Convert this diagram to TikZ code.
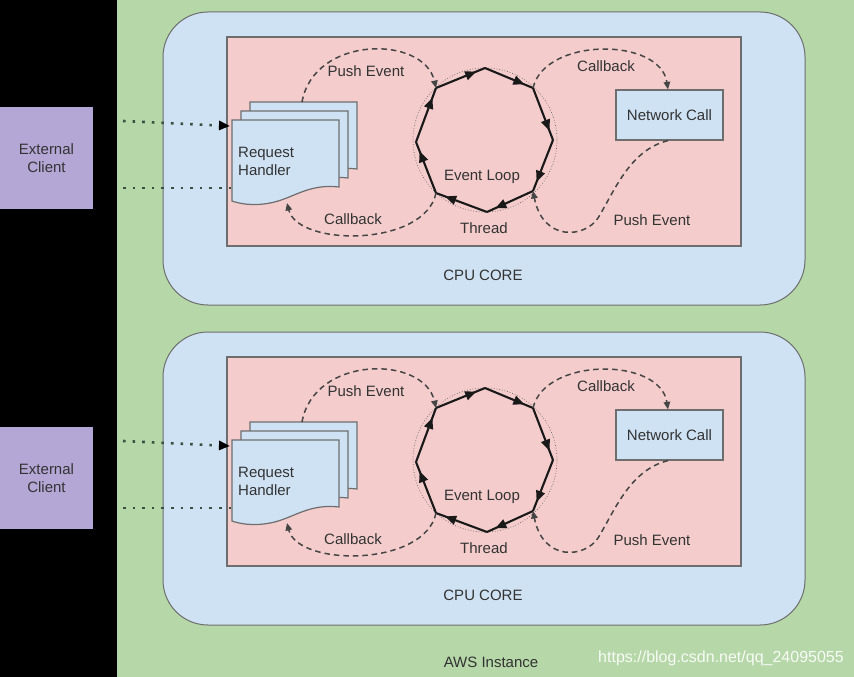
\documentclass[tikz,border=0pt]{standalone}
\usepackage{fontspec}
\setmainfont{Liberation Sans}
\usetikzlibrary{arrows.meta,decorations.markings}
\definecolor{awsgreen}{HTML}{B6D7A8}
\definecolor{coreblue}{HTML}{CFE2F3}
\definecolor{threadpink}{HTML}{F4CCCC}
\definecolor{clientpurple}{HTML}{B4A7D6}
\definecolor{txt}{HTML}{333333}
\definecolor{edgegray}{HTML}{6E6E6E}
\definecolor{dotgreen}{HTML}{3A5040}
\definecolor{dashgray}{HTML}{454545}
\begin{document}
\begin{tikzpicture}[x=1pt,y=-1pt,
  every node/.style={font=\fontsize{15}{18}\selectfont, text=txt, inner sep=0pt},
  client/.style={fill=clientpurple, minimum width=93pt, minimum height=102pt, align=center},
  corebox/.style={fill=coreblue, draw=edgegray, line width=1pt, rounded corners=45pt},
  threadbox/.style={fill=threadpink, draw=edgegray, line width=1.2pt},
  docpage/.style={fill=coreblue, draw=edgegray, line width=1.2pt},
  netbox/.style={fill=coreblue, draw=edgegray, line width=1.2pt, minimum width=107pt, minimum height=50pt},
  flow/.style={draw=dashgray, line width=1.5pt, dash pattern=on 5.5pt off 4pt, -{Triangle[length=7.5pt,width=6.5pt]}},
  reqline/.style={draw=dotgreen, line width=2.6pt, dash pattern=on 2.6pt off 7pt},
  octedge/.style={draw=black!90, line width=2.1pt, postaction={decorate},
    decoration={markings, mark=at position 0.82 with {\arrow{Triangle[length=11pt,width=9pt]}}}},
  docshape/.pic={\path[docpage] (0,0) -- (107,0) -- (107,67)
     .. controls (82,64) and (66,74) .. (52,79)
     .. controls (34,86) and (14,86) .. (0,81) -- cycle;}
]
\useasboundingbox (0,0) rectangle (854,677);
\fill[black] (0,0) rectangle (854,677);
\fill[awsgreen] (117,0) rectangle (854,677);
\node (aws) at (491,662) {AWS Instance};
\node[text=white, opacity=0.9, font=\fontsize{16}{18}\selectfont] (mark) at (721,658) {https://blog.csdn.net/qq\_24095055};

\foreach \dy/\k in {0/a,320/b} {
\begin{scope}[shift={(0,\dy)}]
  \node[client] (client\k) at (46.5,158) {External\\Client};
  \path[corebox] (163,12) rectangle (805,305);
  \node (core\k) at (483,275) {CPU CORE};
  \path[threadbox] (227,37) rectangle (741,246);
  % request handler pages
  \pic at (250,102) {docshape};
  \pic at (241,111) {docshape};
  \pic at (232,120) {docshape};
  \node[align=left, anchor=west] (rh\k) at (238,161) {Request\\Handler};
  \coordinate (rhtop\k) at (302,102);
  \coordinate (rhbot\k) at (287,203);
  \coordinate (rhin\k) at (230,126);
  \coordinate (rhout\k) at (232,188);
  \coordinate (cin\k) at (123,121);
  \coordinate (cout\k) at (123,188);
  % event loop
  \draw[gray!80!black, line width=0.7pt, dotted] (485,140) circle[radius=72];
  \coordinate (v1\k) at (485,68);
  \coordinate (v2\k) at (533,88);
  \coordinate (v3\k) at (553,140);
  \coordinate (v4\k) at (533,191);
  \coordinate (v5\k) at (487,212);
  \coordinate (v6\k) at (436,193);
  \coordinate (v7\k) at (416,142);
  \coordinate (v8\k) at (436,88);
  \foreach \i/\j in {1/2,2/3,3/4,4/5,5/6,6/7,7/8,8/1}
    \draw[octedge] (v\i\k) -- (v\j\k);
  \node (el\k) at (482,177) {Event Loop};
  \node (th\k) at (484,228) {Thread};
  % network call
  \node[netbox] (nc\k) at (669.5,115) {Network Call};
  % flows
  \draw[flow] (rhtop\k) .. controls (314,35) and (424,35) .. (v8\k);
  \node (pe\k) at (366,71) {Push Event};
  \draw[flow] (v6\k) .. controls (425,247) and (298,247) .. (rhbot\k);
  \node (cb\k) at (353,219) {Callback};
  \draw[flow] (v2\k) .. controls (545,37) and (660,37) .. (nc\k.north -| 668,0);
  \node (cbr\k) at (606,66) {Callback};
  \draw[flow] (nc\k.south -| 668,0) .. controls (630,150) and (615,190) .. (598,218)
     .. controls (585,238) and (543,242) .. (v4\k);
  \node (per\k) at (652,220) {Push Event};
  % client requests
  \draw[reqline, -{Triangle[length=11pt,width=9pt,black]}] (cin\k) -- (rhin\k);
  \draw[reqline] (cout\k) -- (rhout\k);
\end{scope}
}
\end{tikzpicture}
\end{document}
